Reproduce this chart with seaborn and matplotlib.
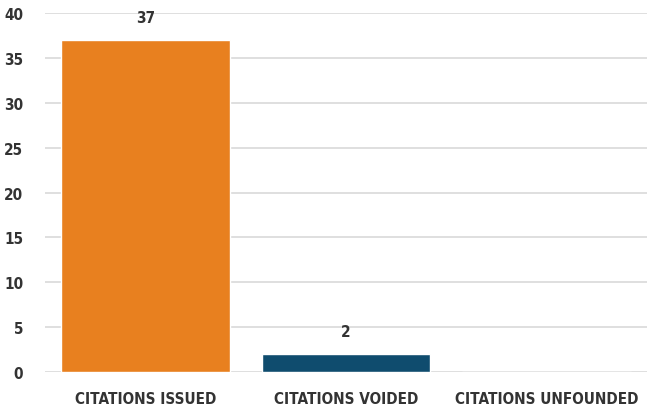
import matplotlib
matplotlib.use("Agg")
import matplotlib.pyplot as plt
import seaborn as sns
import pandas as pd

categories = ["CITATIONS ISSUED", "CITATIONS VOIDED", "CITATIONS UNFOUNDED"]
counts = [37, 2, 0]
bar_colors = ["#E8801F", "#0F4C6E", "#0F4C6E"]

df = pd.DataFrame({"Category": categories, "Count": counts})

sns.set_theme(style="whitegrid")
plt.rcParams['font.family'] = ['DejaVu Sans']
plt.rcParams['font.stretch'] = 'condensed'

fig = plt.figure(figsize=(6.47, 4.14), dpi=100)
ax = fig.add_axes([0.07, 0.099, 0.93, 0.867])

sns.barplot(x="Category", y="Count", data=df, hue="Category", palette=bar_colors,
            legend=False, width=0.84, ax=ax, saturation=1)

ax.set_ylim(0, 40)
ax.set_yticks(range(0, 41, 5))
ax.set_xlim(-0.5, 2.5)
ax.set_xlabel("")
ax.set_ylabel("")
for s in ax.spines.values():
    s.set_visible(False)
ax.grid(axis="y", color="#dcdcdc", linewidth=1.3)
ax.grid(axis="x", visible=False)
ax.tick_params(axis="both", length=0, labelsize=11, colors="#333333")
for lab in ax.get_xticklabels() + ax.get_yticklabels():
    lab.set_fontweight("bold")
    lab.set_fontstretch("condensed")
ax.tick_params(axis="x", pad=14)
ax.tick_params(axis="y", pad=16)

for i, v in enumerate(counts):
    if v > 0:
        ax.text(i, v + 2.5, str(v), ha="center", va="center", fontsize=11,
                fontweight="bold", fontstretch="condensed", color="#333333")

fig.savefig("out.png", dpi=100)
